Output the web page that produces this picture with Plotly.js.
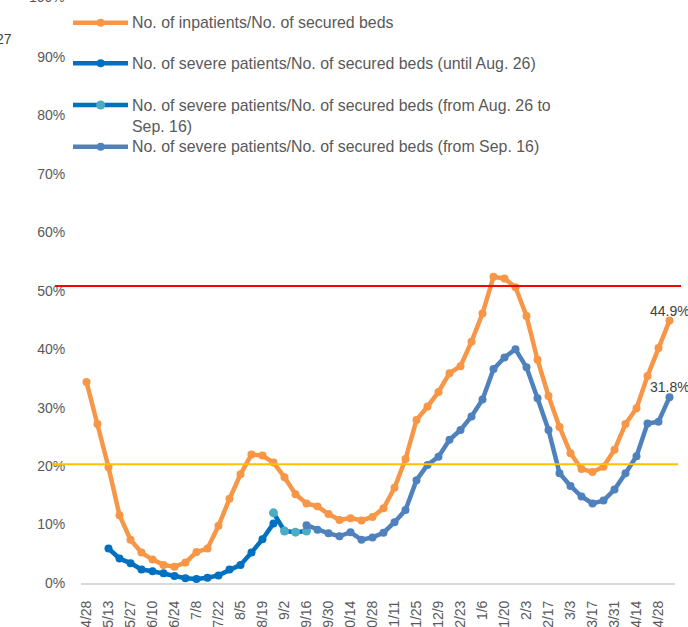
<!DOCTYPE html>
<html>
<head>
<meta charset="utf-8">
<script src="https://cdn.plot.ly/plotly-3.0.1.min.js"></script>
<style>html,body{margin:0;padding:0;background:#fff;}#chart{width:688px;height:627px;}</style>
</head>
<body>
<div id="chart"></div>
<script>
// ---- data ----
const dates = ['4/28','5/6','5/13','5/20','5/27','6/3','6/10','6/17','6/24','7/1','7/8','7/15','7/22','7/29','8/5','8/12','8/19','8/26','9/2','9/9','9/16','9/23','9/30','10/7','10/14','10/21','10/28','11/4','11/11','11/18','11/25','12/2','12/9','12/16','12/23','12/30','1/6','1/13','1/20','1/27','2/3','2/10','2/17','2/24','3/3','3/10','3/17','3/24','3/31','4/7','4/14','4/21','4/28','5/5'];

const inpatients = [34.4,27.2,19.8,11.6,7.4,5.2,4.0,3.1,2.8,3.5,5.3,5.9,9.8,14.4,18.6,22.0,21.8,20.6,18.1,15.2,13.6,13.1,11.8,10.8,11.1,10.7,11.3,12.8,16.3,21.2,27.9,30.2,32.7,35.9,37.1,41.3,46.1,52.4,52.1,50.6,45.7,38.2,32.0,26.7,22.2,19.5,19.0,19.9,22.8,27.2,29.9,35.4,40.2,44.9];

// severe, until Aug. 26 (5/13 .. 8/26)
const severeUntilStart = 2;
const severeUntil = [5.9,4.2,3.4,2.3,2.0,1.65,1.2,0.8,0.7,0.9,1.3,2.3,3.1,5.2,7.5,10.2];
// severe, from Aug. 26 to Sep. 16
const severeMidStart = 17;
const severeMid = [12.0,8.9,8.7,8.9];
// severe, from Sep. 16
const severeFromStart = 20;
const severeFrom = [9.9,9.1,8.5,8.0,8.7,7.4,7.8,8.6,10.4,12.5,17.6,20.2,21.6,24.5,26.2,28.5,31.4,36.6,38.6,40.0,36.9,31.6,26.2,18.8,16.6,14.8,13.6,14.1,16.0,18.8,21.7,27.3,27.6,31.8];

const redLevel = 50.8;
const yellowLevel = 20.3;

const seriesNames = [
  'No. of inpatients/No. of secured beds',
  'No. of severe patients/No. of secured beds (until Aug. 26)',
  'No. of severe patients/No. of secured beds (from Aug. 26 to',
  'No. of severe patients/No. of secured beds (from Sep. 16)'
];
const yTickVals = [0,10,20,30,40,50,60,70,80,90];

// ---- styles ----
const C_OR = '#f79646', C_DB = '#0070c0', C_LB = '#4bacc6', C_SB = '#4f81bd';
const FONT = 'Arial, "Liberation Sans", sans-serif';
const TXT = '#595959';

const L = 81, T = 0, W = 594, H = 583;
const px2x = p => (p - L) / W;
const py2y = p => (T + H - p) / H;

const idx = dates.map((d, i) => i);
function sub(start, arr) { return arr.map((v, i) => start + i); }

const traces = [
  {x: idx, y: inpatients, name: seriesNames[0], mode: 'lines+markers',
   line: {color: C_OR, width: 4.5}, marker: {color: C_OR, size: 8}, cliponaxis: false},
  {x: sub(severeUntilStart, severeUntil), y: severeUntil, name: seriesNames[1], mode: 'lines+markers',
   line: {color: C_DB, width: 4.5}, marker: {color: C_DB, size: 8}, cliponaxis: false},
  {x: sub(severeMidStart, severeMid), y: severeMid, name: seriesNames[2], mode: 'lines+markers',
   line: {color: C_DB, width: 4.5}, marker: {color: C_LB, size: 9}, cliponaxis: false},
  {x: sub(severeFromStart, severeFrom), y: severeFrom, name: seriesNames[3], mode: 'lines+markers',
   line: {color: C_SB, width: 4.5}, marker: {color: C_SB, size: 8}, cliponaxis: false}
];

// custom legend
const legY = [22.7, 63.3, 105, 146.7];
const legLine = [C_OR, C_DB, C_DB, C_SB];
const legMark = [C_OR, C_DB, C_LB, C_SB];
const LEGFONT = {family: FONT, size: 15.9, color: TXT};
const shapes = [
  {type: 'line', xref: 'paper', yref: 'y', x0: px2x(55), x1: px2x(681), y0: redLevel, y1: redLevel,
   line: {color: '#ff0000', width: 2}, layer: 'above'},
  {type: 'line', xref: 'paper', yref: 'y', x0: px2x(52), x1: px2x(678), y0: yellowLevel, y1: yellowLevel,
   line: {color: '#ffc000', width: 2}, layer: 'above'}
];
const annotations = [];
legY.forEach((yy, k) => {
  shapes.push({type: 'line', xref: 'paper', yref: 'paper', x0: px2x(73), x1: px2x(128), y0: py2y(yy), y1: py2y(yy),
    line: {color: legLine[k], width: 4.5}, layer: 'above'});
  const r = k === 2 ? 4.5 : 4;
  shapes.push({type: 'circle', xref: 'paper', yref: 'paper', x0: px2x(100.7 - r), x1: px2x(100.7 + r),
    y0: py2y(yy + r), y1: py2y(yy - r), fillcolor: legMark[k], line: {width: 0}, layer: 'above'});
  annotations.push({xref: 'paper', yref: 'paper', x: px2x(130), y: py2y(yy), xanchor: 'left', yanchor: 'middle',
    text: seriesNames[k], showarrow: false, font: LEGFONT});
});
annotations.push({xref: 'paper', yref: 'paper', x: px2x(130), y: py2y(126), xanchor: 'left', yanchor: 'middle',
  text: 'Sep. 16)', showarrow: false, font: LEGFONT});
annotations.push({xref: 'paper', yref: 'paper', x: px2x(67), y: py2y(-3), xanchor: 'right', yanchor: 'middle',
  text: '100%', showarrow: false, font: {family: FONT, size: 14, color: TXT}});
annotations.push({xref: 'paper', yref: 'paper', x: px2x(14), y: py2y(39), xanchor: 'right', yanchor: 'middle',
  text: '27', showarrow: false, font: {family: FONT, size: 14, color: '#404040'}});
// data labels on last points
[[idx, inpatients], [sub(severeFromStart, severeFrom), severeFrom]].forEach(([xs, ys]) => {
  const n = ys.length - 1;
  annotations.push({xref: 'x', yref: 'y', x: xs[n], y: ys[n], yshift: 10, xanchor: 'center', yanchor: 'middle',
    text: ys[n].toFixed(1) + '%', showarrow: false, font: {family: FONT, size: 14, color: '#404040'}});
});

const tickVals = idx.filter(i => i % 2 === 0);
const tickText = tickVals.map(i => dates[i]);

const layout = {
  width: 688, height: 627,
  margin: {l: L, r: 688 - L - W, t: T, b: 627 - T - H, pad: 0},
  paper_bgcolor: '#fff', plot_bgcolor: '#fff',
  showlegend: false,
  font: {family: FONT, size: 14, color: TXT},
  xaxis: {
    range: [-0.5, dates.length - 0.5], tickmode: 'array', tickvals: tickVals, ticktext: tickText,
    tickangle: -90, showgrid: false, zeroline: false, showline: true, linecolor: '#d9d9d9', linewidth: 2,
    ticks: 'outside', ticklen: 10, tickcolor: 'rgba(0,0,0,0)',
    tickfont: {family: FONT, size: 14, color: TXT}
  },
  yaxis: {
    range: [0, 99.76], tickmode: 'array', tickvals: yTickVals, ticktext: yTickVals.map(v => v + '%'),
    showgrid: false, zeroline: false, showline: false,
    ticks: 'outside', ticklen: 12, tickcolor: 'rgba(0,0,0,0)',
    tickfont: {family: FONT, size: 14, color: TXT}
  },
  shapes: shapes,
  annotations: annotations
};

Plotly.newPlot('chart', traces, layout, {staticPlot: true, displayModeBar: false});
</script>
</body>
</html>
